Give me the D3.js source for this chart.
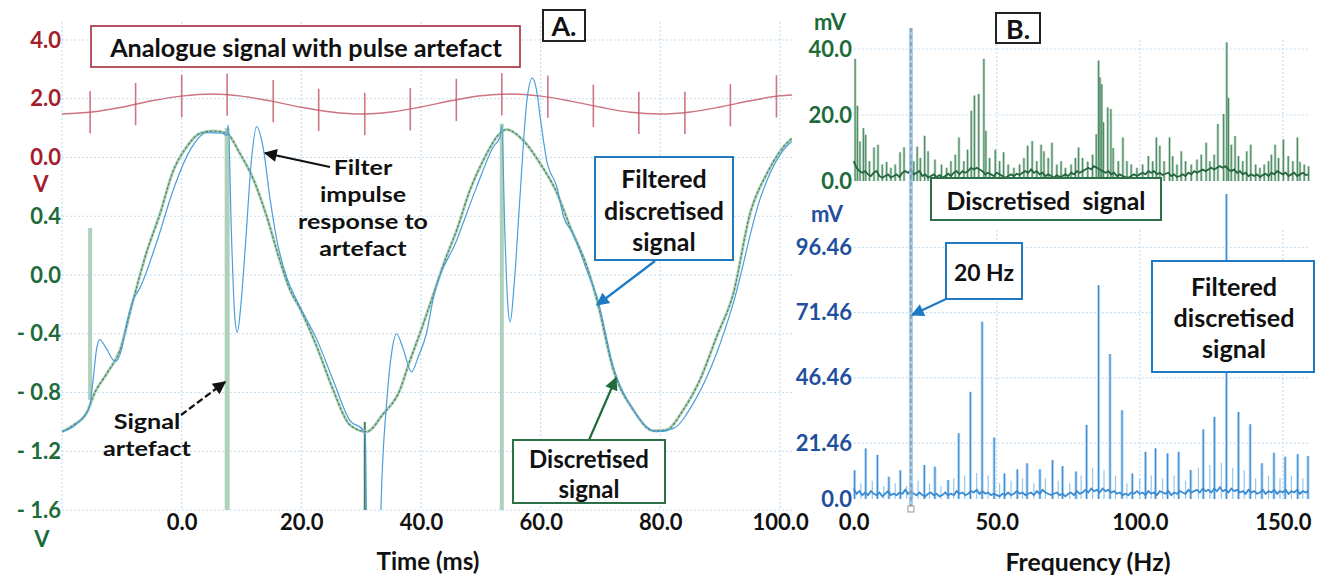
<!DOCTYPE html>
<html>
<head>
<meta charset="utf-8">
<script src="https://cdn.jsdelivr.net/npm/d3@7"></script>
<style>
body { margin: 0; background: #fff; }
text { font-family: Lato, "Open Sans", sans-serif; font-weight: 700; }
</style>
</head>
<body>
<div id="chart"></div>
<script>
// ---------- panel A data (time domain) ----------
const timeTicks = [0, 20, 40, 60, 80, 100];
const redTicks = [0, 2, 4];
const greenTicks = [0.4, 0, -0.4, -0.8, -1.2, -1.6];

// analogue signal, red axis (V)
const redSignal = [[-20,1.48],[-15,1.55],[-10,1.71],[-5,1.93],[0,2.09],[5,2.16],[10,2.09],[15,1.92],
  [20,1.71],[25,1.55],[30,1.48],[35,1.55],[40,1.72],[45,1.93],[50,2.10],[55,2.16],[60,2.09],[65,1.92],
  [70,1.71],[75,1.54],[80,1.48],[85,1.55],[90,1.72],[95,1.93],[100,2.10],[102,2.13]];

// pulse artefacts riding on the analogue signal
const pulseTime = [-15.3,-7.7,0,7.6,15.3,22.9,30.6,38.2,45.9,53.5,61.2,68.8,76.4,84.1,91.7,99.4];
const pulseLevel = [1.54,1.82,2.09,2.14,1.92,1.62,1.48,1.64,1.96,2.15,2.07,1.76,1.52,1.52,1.78,2.08];
const pulseSize = 0.72;

// discretised signal, green axis (V)
const greenSignal = [[-20,-1.067],[-18,-1.02],[-15.9,-0.94],[-14.5,-0.80],[-12.5,-0.67],[-10.3,-0.51],
  [-8.1,-0.17],[-5.9,0.15],[-3.6,0.42],[-1.5,0.70],[0.8,0.87],[3.1,0.965],[5.2,0.98],[7.5,0.965],
  [9.7,0.83],[12,0.65],[14.2,0.40],[16.4,0.10],[18.1,-0.10],[19.8,-0.23],[22.6,-0.49],[25.3,-0.78],
  [28.1,-1.02],[30.9,-1.067],[33.6,-0.95],[36.5,-0.78],[38,-0.60],[39.8,-0.40],[41.5,-0.20],[44,0.10],
  [46,0.31],[48.2,0.58],[50.4,0.78],[53.2,0.965],[54.3,0.99],[57,0.92],[59.9,0.76],[62.7,0.56],
  [64.9,0.33],[67.7,0.06],[69.4,-0.17],[72.1,-0.64],[75.5,-0.92],[78.8,-1.06],[81,-1.055],[83.8,-0.92],
  [86.6,-0.715],[89.4,-0.42],[92.2,-0.125],[95,0.42],[97.8,0.69],[101.7,0.92],[102,0.93]];

// artefact samples captured in the discretised signal
const artefactTime = [-15.3, 7.6, 30.6, 53.5];
const artefactTop = [0.32, 1.0, -1.0, 1.03];
const artefactBottom = [-0.85, -1.6, -1.6, -1.6];

// filtered discretised signal, green axis (V)
const blueSignal = [[-20,-1.067],[-18,-1.03],[-16.4,-0.965],[-15.4,-0.9],[-14.9,-0.75],[-14.2,-0.5],
  [-13.7,-0.44],[-12.6,-0.5],[-11.1,-0.59],[-10,-0.5],[-9.2,-0.33],[-8.1,-0.17],[-7,-0.09],[-4.2,0.22],
  [-1.4,0.58],[1.4,0.85],[4.2,0.97],[6.7,0.965],[7.5,0.95],[7.8,1.02],[8.3,0.3],[8.9,-0.3],[9.3,-0.39],
  [9.9,-0.2],[10.6,0.17],[11.7,0.8],[12.5,1.01],[13.6,0.87],[14.8,0.51],[15.9,0.24],[17.5,-0.01],
  [19.2,-0.17],[19.8,-0.22],[22.6,-0.44],[25.3,-0.715],[28.1,-0.99],[30.3,-1.055],[30.7,-1.1],
  [31.1,-2.5],[32.9,-2.5],[33.3,-1.6],[34.3,-0.85],[35.2,-0.5],[35.9,-0.40],[37,-0.5],[38.4,-0.66],
  [39.6,-0.55],[40.9,-0.40],[42,-0.17],[46,0.24],[49.3,0.6],[52.1,0.873],[53.2,0.94],[53.5,1.02],
  [54,0.3],[54.5,-0.2],[54.9,-0.32],[55.5,-0.1],[56.5,0.51],[57.7,1.19],[58.6,1.34],[59.3,1.26],
  [59.9,1.08],[61,0.78],[62.7,0.6],[63.8,0.40],[65.4,0.28],[67.7,0.034],[69.4,-0.15],[72.1,-0.62],
  [75.5,-0.92],[79.4,-1.067],[82.2,-1.044],[85.5,-0.874],[89.4,-0.533],[92.2,-0.19],[96.6,0.51],
  [101.7,0.9],[102,0.91]];

// ---------- panel B data (frequency domain) ----------
const freqTicks = [0, 50, 100, 150];
const specGreenTicks = [0, 20, 40];
const specBlueTicks = [0, 21.46, 46.46, 71.46, 96.46];

// noise floor, one value per Hz from 0 Hz
const greenFloor = [6,4,3,2.5,3,2,1.5,2.5,3,1.5,1,1.5,2,1,1.5,2,1.2,2.5,3,2.5,
  3.5,2,2.5,3,1.5,2,1,1.5,2,1.2,1.8,1,1.5,2.2,1.5,2.5,3,2,3,2.5,
  3,4,3.5,4,3.5,3,2,2.5,2,1.5,2.5,2,1.5,1,1.5,2,1.5,2.2,1.8,2.5,
  3,2.5,3.5,2.5,3,2,2.5,1.5,2,1.5,1,1.8,1.2,1.5,2,1.5,2.5,2,3,2.5,
  3,3.5,4,3.5,4.5,4,3.5,3,2.5,3,2,2.5,1.5,2,1.5,1.2,1,1.5,2,1.5,
  2,2.5,2,3,2.5,3,2,2.5,1.8,2.2,2.5,1.5,2,1.2,1.5,2,1.5,2.5,2,3,
  2.5,3,3.5,3,3.5,4,3.5,4,4.5,4,4.5,3.5,3,3.5,2.5,3,2,2.5,1.5,2,
  1.5,2,1.2,1.8,2.2,1.5,2.5,2,3,2.5,2,2.5,1.5,2,2.5,1.5,2,2.5,1.8,2];
const blueFloor = [4,2,3,1.5,2.5,1.5,3,2,1.5,2.5,1,2,3,1.5,2,1.5,2.5,2,3.5,2,
  3,2,1.5,2.5,1.5,1,2,2.5,1.5,2,1,1.5,2.5,1.5,2,1.5,3,2,2.5,1.5,
  2,3,2.5,3.5,2,3,2,2.5,1.5,2,1.5,1,2,1.5,2.5,1.5,2,3,2,2.5,
  1.5,2,2.5,1.5,3,2,3.5,2.5,2,1.5,2,2.5,1.5,2,1,2,2.5,1.5,3,2,
  2.5,3.5,2.5,4,3,3.5,2.5,4,3,3.5,2.5,3,2,2.5,1.5,2,1.5,2.5,2,3,
  2,2.5,1.5,3,2,2.5,1.5,3,2.5,2,3,1.5,2.5,2,3,2.5,2,3.5,2.5,3,
  3.5,2.5,4,3,3.5,2.5,4,3,4.5,3,3.5,2.5,4,3,3.5,2.5,3,2,3.5,2.5,
  3,2,2.5,3.5,2,3,2.5,3.5,2,3,2.5,3.5,2,3,2.5,3.5,2,3,2.5,3];

// spectral lines [Hz, mV]
const greenPeaks = [[0.5,37],[1.3,22.8],[2.2,12],[3.4,16],[4.2,14],[5.5,6],[7.1,10.2],[8.5,11],[10,5],
  [11.5,5.8],[13,4],[14.5,5],[16.2,8.7],[17.6,10.2],[20,7],[21,6],[22.2,10.4],[23.3,7],[24.8,13.7],
  [26,9],[28.4,6.5],[30.7,5],[32.5,4],[34,6],[35.5,8],[36.8,13.2],[38.5,6],[39.8,9.5],[41.1,21.3],
  [42.2,25.9],[43.7,26.4],[45.5,37],[46.2,15.2],[47.5,7],[49.5,9.5],[51,6],[52.4,8.7],[54,5],[56,4],
  [58,5],[59.5,7],[60.8,10.7],[62.4,12.1],[64,6],[65.5,11],[66.5,9],[68,7],[69.3,11.6],[71,5],
  [72.5,6],[74,4],[76,5],[77.5,7],[78.6,10.2],[80,7],[81.8,5.9],[83.5,8],[84.8,14.2],[85.6,36.5],
  [86.1,31.4],[86.7,29.3],[87.3,17.8],[88.8,22.3],[89.9,21.8],[90.7,10],[92.5,6],[94.1,13.2],[95.5,6],
  [97,5],[99,4],[101,5],[103,7.6],[104.5,6],[105.8,13.2],[107,10.7],[108.5,6],[110.4,13.2],[111.5,7.5],
  [113,5],[114.5,9],[116,6],[118,5],[120,6.5],[121.5,8],[123.2,11.6],[124.5,6],[126,8],[127.3,17.3],
  [129.3,20.3],[130.4,42],[131,25.2],[132,11],[133.3,13.6],[134.5,7.6],[136,6],[137.4,9],[138.8,11],
  [140.5,5],[142,4],[143.5,5],[145,6],[146,8],[147.3,11],[148.5,7],[150.2,12.6],[151.9,7.6],[153.5,6],
  [155.1,13.2],[156,5.8],[157.5,5],[159,4.5]];
const bluePeaks = [[0.3,11],[4.2,19.4],[8.3,16.9],[12.3,8.5],[16.3,11],[20.3,5.9],[24.7,13],[28.4,12.4],
  [33,7.3],[36.7,25.2],[40.8,41.1],[44.9,68],[49.1,23.6],[52.7,9.8],[57.2,11.4],[60.6,13.7],[65.1,11.4],
  [69.5,14.9],[73,12.6],[77.7,10.5],[81.4,28.4],[85.6,82],[89.6,55.6],[93.8,34],[97.4,9.8],[102,18.1],
  [105.5,19.4],[109.7,17.5],[113.6,18.1],[117.8,11.1],[122.2,26.7],[126.1,31.5],[130.3,117],[134.5,33.4],
  [138.6,28.7],[142.7,13.7],[146.9,17.7],[150.8,16.2],[155.2,17.2],[158.8,16.5]];
// smaller side lines of the filtered spectrum
const blueSideLines = [[2.5,6],[6.5,7],[10.5,5],[14.5,6],[18.5,5],[22.5,7],[26.5,6],[30.5,5],[35,8],
  [38.8,9],[43,10],[47,9],[51,6],[55,7],[59,8],[63,6],[67,8],[71.5,7],[75.5,6],[79.5,9],[83.5,12],
  [87.5,11],[91.5,9],[95.5,6],[100,8],[104,9],[108,8],[112,9],[116,7],[120.5,12],[124.5,13],
  [128.5,14],[132.5,12],[136.5,11],[140.5,8],[145,9],[149,8],[153,9],[157,8]];
const cursorFreq = 20;

// ---------- svg ----------
const W = 1334, H = 580;
const svg = d3.select('#chart').append('svg').attr('width', W).attr('height', H);

const RED = '#a51d2d', GREEN = '#1d6b3b', BLUE = '#1f4f9e';
const GRID = '#c5def0';

// scales
const xA = d3.scaleLinear().domain([-20, 102]).range([62, 792]);
const yRed = d3.scaleLinear().domain([0, 4]).range([157.5, 40]);
const yGreen = d3.scaleLinear().domain([-1.6, 0.4]).range([510, 216.25]);
const xB = d3.scaleLinear().domain([0, 159.5]).range([853.7, 1310]);
const ySpecG = d3.scaleLinear().domain([0, 40]).range([181, 49]);
const ySpecB = d3.scaleLinear().domain([0, 96.46]).range([499, 247.5]);

const defs = svg.append('defs');
defs.append('clipPath').attr('id', 'clipA').append('rect')
  .attr('x', xA(-20)).attr('y', 20).attr('width', xA(102) - xA(-20)).attr('height', yGreen(-1.6) - 20);

// 화살표 마커
[['black', '#111'], ['blue', '#1f7ac4'], ['green', '#1f6b3a']].forEach(([id, c]) => {
  defs.append('marker')
    .attr('id', 'arrow-' + id)
    .attr('viewBox', '0 -5 10 10')
    .attr('refX', 9).attr('refY', 0)
    .attr('markerUnits', 'userSpaceOnUse')
    .attr('markerWidth', 15).attr('markerHeight', 13)
    .attr('orient', 'auto')
    .append('path').attr('d', 'M0,-5L10,0L0,5Z').attr('fill', c);
});

// ---------- grid ----------
function vGrid(scale, ticks, y0, y1) {
  svg.append('g').selectAll('line').data(ticks).enter().append('line')
    .attr('x1', d => scale(d)).attr('x2', d => scale(d))
    .attr('y1', y0).attr('y2', y1)
    .attr('stroke', GRID).attr('stroke-width', 1.2).attr('stroke-dasharray', '2,2');
}
function hGrid(scale, ticks, x0, x1) {
  svg.append('g').selectAll('line').data(ticks).enter().append('line')
    .attr('x1', x0).attr('x2', x1)
    .attr('y1', d => scale(d)).attr('y2', d => scale(d))
    .attr('stroke', GRID).attr('stroke-width', 1.2).attr('stroke-dasharray', '2,2');
}

vGrid(xA, [-20].concat(timeTicks), 22, yGreen(-1.6));
hGrid(yRed, redTicks.slice(1), xA(-20), xA(102));
hGrid(yGreen, greenTicks, xA(-20), xA(102));
hGrid(yRed, [0], xA(-20), xA(102));

vGrid(xB, freqTicks.slice(1), 40, ySpecG(0));
hGrid(ySpecG, specGreenTicks.slice(1), xB(0), xB(159.5));
vGrid(xB, freqTicks.slice(1), 230, ySpecB(0));
hGrid(ySpecB, specBlueTicks.slice(1), xB(0), xB(159.5));

// ---------- axis labels ----------
function leftAxis(scale, ticks, x, color, fmt) {
  const g = svg.append('g').attr('transform', `translate(${x},0)`)
    .call(d3.axisLeft(scale).tickValues(ticks).tickFormat(fmt).tickSize(0).tickPadding(0));
  g.select('.domain').remove();
  g.selectAll('text').attr('fill', color).style('font-size', '22px');
}
function bottomAxis(scale, ticks, y, fmt) {
  const g = svg.append('g').attr('transform', `translate(0,${y})`)
    .call(d3.axisBottom(scale).tickValues(ticks).tickFormat(fmt).tickSize(0).tickPadding(2));
  g.select('.domain').remove();
  g.selectAll('text').attr('fill', '#111').style('font-size', '22px');
}
const f1 = d3.format('.1f');
const fNeg = d => d < 0 ? '- ' + f1(-d) : f1(d);

leftAxis(yRed, redTicks, 61, RED, f1);
leftAxis(yGreen, greenTicks, 61, GREEN, fNeg);
leftAxis(ySpecG, specGreenTicks, 852, GREEN, f1);
leftAxis(ySpecB, specBlueTicks, 852, BLUE, d => d === 0 ? '0.0' : d3.format('.2f')(d));
bottomAxis(xA, timeTicks, 512, f1);
bottomAxis(xB, freqTicks, 512, f1);

function label(x, y, str, color, size) {
  return svg.append('text').attr('x', x).attr('y', y)
    .attr('text-anchor', 'middle').attr('dominant-baseline', 'central')
    .attr('fill', color).style('font-size', size + 'px').text(str);
}
label(41, 183, 'V', RED, 22);
label(42, 538, 'V', GREEN, 22);
label(830, 21, 'mV', GREEN, 22);
label(827, 213, 'mV', BLUE, 22);

// ---------- panel A marks ----------
const gA = svg.append('g').attr('clip-path', 'url(#clipA)');

// analogue signal
gA.append('path').datum(redSignal)
  .attr('d', d3.line().x(d => xA(d[0])).y(d => yRed(d[1])).curve(d3.curveMonotoneX))
  .attr('fill', 'none').attr('stroke', '#cc7480').attr('stroke-width', 1.4);
gA.append('g').selectAll('line').data(pulseTime).enter().append('line')
  .attr('x1', d => xA(d)).attr('x2', d => xA(d))
  .attr('y1', (d, i) => yRed(pulseLevel[i] + pulseSize))
  .attr('y2', (d, i) => yRed(pulseLevel[i] - pulseSize))
  .attr('stroke', '#c65563').attr('stroke-width', 1.6).attr('opacity', 0.8);

// artefact samples
const artefactWidth = [4, 5, 2, 4];
gA.append('g').selectAll('rect').data(artefactTime).enter().append('rect')
  .attr('x', (d, i) => xA(d) - artefactWidth[i] / 2)
  .attr('width', (d, i) => artefactWidth[i])
  .attr('y', (d, i) => yGreen(artefactTop[i]))
  .attr('height', (d, i) => yGreen(artefactBottom[i]) - yGreen(artefactTop[i]))
  .attr('fill', (d, i) => i === 2 ? '#2f7048' : '#a6cbb3')
  .attr('opacity', 0.9);

// discretised signal
const greenLine = d3.line().x(d => xA(d[0])).y(d => yGreen(d[1])).curve(d3.curveMonotoneX);
gA.append('path').datum(greenSignal).attr('d', greenLine)
  .attr('fill', 'none').attr('stroke', '#b3d2bd').attr('stroke-width', 3);
gA.append('path').datum(greenSignal).attr('d', greenLine)
  .attr('fill', 'none').attr('stroke', '#4a8761').attr('stroke-width', 1.2)
  .attr('stroke-dasharray', '3,1.5');

// filtered discretised signal
gA.append('path').datum(blueSignal)
  .attr('d', d3.line().x(d => xA(d[0])).y(d => yGreen(d[1])).curve(d3.curveMonotoneX))
  .attr('fill', 'none').attr('stroke', '#4a9edc').attr('stroke-width', 1.2);

// ---------- panel B marks ----------
const floorLine = (ys) => d3.line().x((d, i) => xB(i)).y(d => ys(d)).curve(d3.curveLinear);
function spikes(data, ys, color, width, opacity) {
  svg.append('g').selectAll('line').data(data).enter().append('line')
    .attr('x1', d => xB(d[0])).attr('x2', d => xB(d[0]))
    .attr('y1', ys(0)).attr('y2', d => ys(d[1]))
    .attr('stroke', color).attr('stroke-width', width).attr('opacity', opacity);
}

// discretised spectrum
spikes(greenPeaks, ySpecG, '#8dbb9c', 2.6, 0.7);
spikes(greenPeaks, ySpecG, '#3a7a52', 1, 0.85);
svg.append('path').datum(greenFloor.slice(0, 160))
  .attr('d', floorLine(ySpecG))
  .attr('fill', 'none').attr('stroke', '#24663d').attr('stroke-width', 1.8);

// filtered spectrum
spikes(blueSideLines, ySpecB, '#7fb7e6', 1.2, 0.8);
spikes(bluePeaks, ySpecB, '#a7cdee', 3, 0.8);
spikes(bluePeaks, ySpecB, '#3d90d6', 1.2, 1);
svg.append('path').datum(blueFloor.slice(0, 160))
  .attr('d', floorLine(ySpecB))
  .attr('fill', 'none').attr('stroke', '#3a8bd2').attr('stroke-width', 1.8);

// 20 Hz cursor
svg.append('rect').attr('x', xB(cursorFreq) - 2).attr('y', 28).attr('width', 4).attr('height', 478)
  .attr('fill', '#8fc2ea').attr('opacity', 0.8);
svg.append('line').attr('x1', xB(cursorFreq)).attr('x2', xB(cursorFreq)).attr('y1', 28).attr('y2', 506)
  .attr('stroke', '#8a8a8a').attr('stroke-width', 1.2).attr('stroke-dasharray', '4,3');
svg.append('rect').attr('x', xB(cursorFreq) - 3).attr('y', 506).attr('width', 6).attr('height', 6)
  .attr('fill', '#fff').attr('stroke', '#999').attr('stroke-width', 1);

// ---------- annotations ----------
function box(x, y, w, h, color, sw) {
  svg.append('rect').attr('x', x).attr('y', y).attr('width', w).attr('height', h)
    .attr('fill', '#fff').attr('stroke', color).attr('stroke-width', sw);
}
// 글자 폭을 원본에 맞춤: 줄 간격을 넘으면 글자 크기는 두고 가로로만 늘림
function textBlock(cx, ys, lines, refIndex, refWidth) {
  const t = lines.map((s, i) => label(cx, ys[i], s, '#111', 20).style('white-space', 'pre'));
  const len = t[refIndex].node().getComputedTextLength();
  const want = 20 * refWidth / len;
  const size = ys.length > 1 ? Math.min(want, (ys[1] - ys[0]) / 1.24) : want;
  t.forEach(s => s.style('font-size', size + 'px'));
  if (size < want) {
    const stretch = want / size;
    t.forEach(s => {
      const l = s.node().getComputedTextLength();
      s.attr('textLength', l * stretch).attr('lengthAdjust', 'spacingAndGlyphs');
    });
  }
}
function arrow(x1, y1, x2, y2, id, color, dash) {
  svg.append('line').attr('x1', x1).attr('y1', y1).attr('x2', x2).attr('y2', y2)
    .attr('stroke', color).attr('stroke-width', 2.2)
    .attr('stroke-dasharray', dash || null)
    .attr('marker-end', `url(#arrow-${id})`);
}

box(91, 26, 429, 41, '#a52a3a', 1.6);
textBlock(306, [47], ['Analogue signal with pulse artefact'], 0, 392);

box(543, 10, 42, 31, '#222', 2);
textBlock(564, [26], ['A.'], 0, 25);
box(996, 13, 44, 30, '#222', 2);
textBlock(1018, [28.5], ['B.'], 0, 24);

arrow(330, 167, 265, 153, 'black', '#111');
textBlock(363, [167, 194, 221, 248], ['Filter', 'impulse', 'response to', 'artefact'], 2, 130);

arrow(181, 415, 225, 382, 'black', '#111', '7,3');
textBlock(147, [421, 448], ['Signal', 'artefact'], 1, 88);

arrow(655, 261, 597, 305, 'blue', '#1f7ac4');
box(595, 157, 138, 103, '#1f7ac4', 2);
textBlock(664, [178, 210, 241], ['Filtered', 'discretised', 'signal'], 1, 120);

arrow(589, 440, 616, 378, 'green', '#1f6b3a');
box(513, 440, 152, 63, '#2d6f46', 2);
textBlock(589, [458, 488], ['Discretised', 'signal'], 0, 120);

box(931, 178, 230, 42, '#2d6f46', 2);
textBlock(1046, [200], ['Discretised  signal'], 0, 199);

arrow(946, 299, 912, 315, 'blue', '#1f7ac4');
box(946, 243, 76, 56, '#1f7ac4', 2);
textBlock(984, [272], ['20 Hz'], 0, 60);

box(1152, 261, 162, 111, '#1f7ac4', 2);
textBlock(1234, [286, 317, 348], ['Filtered', 'discretised', 'signal'], 1, 121);

textBlock(428, [560], ['Time (ms)'], 0, 103);
textBlock(1088, [561], ['Frequency (Hz)'], 0, 165);
</script>
</body>
</html>
